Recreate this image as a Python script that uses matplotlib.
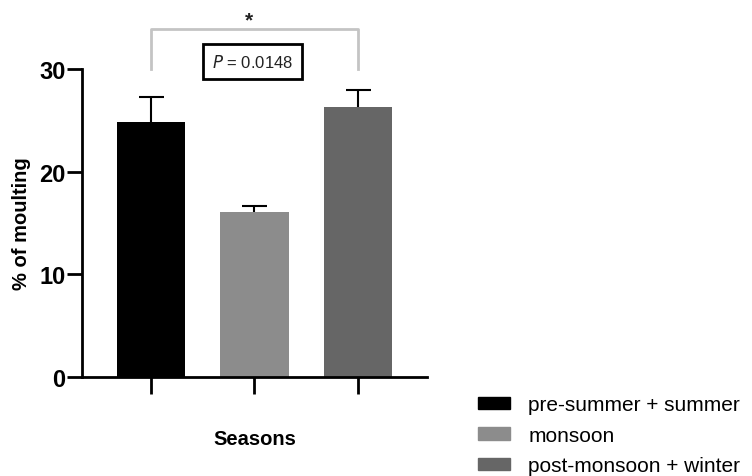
import matplotlib.pyplot as plt
from matplotlib.patches import Patch

plt.rcParams['font.family'] = ['Liberation Sans', 'DejaVu Sans']

seasons = ['pre-summer + summer', 'monsoon', 'post-monsoon + winter']
means = [24.8, 16.1, 26.3]
errors = [2.5, 0.6, 1.7]
colors = ['#000000', '#8c8c8c', '#666666']
p_text = '$\\it{P}$ = 0.0148'

fig = plt.figure(figsize=(7.52, 4.77), dpi=100)
ax = fig.add_axes([82 / 752, 1 - 378 / 477, (427 - 82) / 752, 308 / 477])

x = range(len(seasons))
ax.bar(x, means, width=0.66, color=colors)
eb = ax.errorbar(x, means, yerr=[[0] * 3, errors], fmt='none', ecolor='black',
                 elinewidth=1.5, capsize=9, capthick=1.5)
eb[1][0].set_visible(False)  # only the upper cap

ax.set_xlim(-0.67, 2.67)
ax.set_ylim(0, 30)
ax.set_yticks([0, 10, 20, 30])
ax.set_xticks(list(x))
ax.set_xticklabels([])
for s in ['top', 'right']:
    ax.spines[s].set_visible(False)
for s in ['left', 'bottom']:
    ax.spines[s].set_linewidth(2)
ax.tick_params(axis='y', length=11, width=2, labelsize=17, pad=1)
ax.tick_params(axis='x', length=12, width=2)
for lbl in ax.get_yticklabels():
    lbl.set_fontweight('bold')

ax.set_ylabel('% of moulting', fontsize=14.5, fontweight='bold', labelpad=6)
ax.set_xlabel('Seasons', fontsize=14.5, fontweight='bold', labelpad=22)

# significance bracket
ax.plot([0, 0, 2, 2], [30, 33.9, 33.9, 30], color='#c4c4c4', lw=2, clip_on=False)
ax.text(0.95, 34.8, '*', ha='center', va='center', fontsize=15, fontweight='bold',
        color='#222222')
ax.text(0.98, 30.7, p_text, ha='center', va='center', fontsize=12, color='#222222',
        bbox=dict(boxstyle='square,pad=0.55', fc='white', ec='black', lw=2))

handles = [Patch(color=c) for c in colors]
fig.legend(handles, seasons, loc='upper left', bbox_to_anchor=(470 / 752, 1 - 388 / 477),
           frameon=False, fontsize=15, handlelength=1.5, handleheight=0.55,
           labelspacing=0.55, handletextpad=0.9, borderaxespad=0)

fig.savefig('out.png', dpi=100)
